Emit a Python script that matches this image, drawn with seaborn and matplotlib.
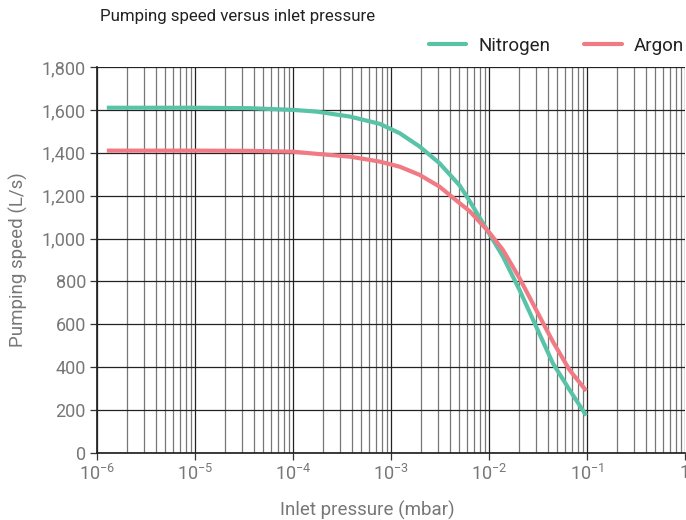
import numpy as np
import pandas as pd
import matplotlib
matplotlib.use("Agg")
import matplotlib.pyplot as plt
import seaborn as sns
from matplotlib.ticker import FixedLocator, FuncFormatter, MultipleLocator, NullFormatter
from matplotlib.lines import Line2D

# Data
pressure = [1.26e-6, 1e-5, 3.6e-5, 1e-4, 1.74e-4, 3.8e-4, 7.67e-4, 1.23e-3, 1.96e-3,
            3.13e-3, 5.01e-3, 6.34e-3, 1.0e-2, 1.387e-2, 2.05e-2, 3.03e-2, 4.49e-2,
            6.64e-2, 9.82e-2]
speed_n2 = [1610, 1610, 1608, 1600, 1592, 1569, 1535, 1491, 1429,
            1351, 1248, 1175, 1025, 916, 760, 589, 418,
            294, 175]
speed_ar = [1410, 1410, 1409, 1405, 1395, 1382, 1359, 1335, 1297,
            1242, 1165, 1128, 1030, 947, 815, 667, 519,
            387, 290]

series_names = ["Nitrogen", "Argon"]
colors = ["#58C3A7", "#F17B84"]
x_ticks = [1e-6, 1e-5, 1e-4, 1e-3, 1e-2, 1e-1, 1]

df = pd.concat([
    pd.DataFrame({"pressure": pressure, "speed": speed_n2, "gas": series_names[0]}),
    pd.DataFrame({"pressure": pressure, "speed": speed_ar, "gas": series_names[1]}),
])

sns.set_theme(style="white")
plt.rcParams["font.family"] = ["Roboto", "DejaVu Sans"]
plt.rcParams["mathtext.fontset"] = "custom"
plt.rcParams["mathtext.rm"] = "Roboto"
plt.rcParams["mathtext.it"] = "Roboto"
plt.rcParams["mathtext.default"] = "regular"

fig = plt.figure(figsize=(6.86, 5.2), dpi=100)
ax = fig.add_axes([97/686, (520-453)/520, (685-97)/686, (453-67)/520])

sns.lineplot(data=df, x="pressure", y="speed", hue="gas", palette=colors,
             hue_order=series_names, linewidth=3.0, ax=ax, legend=False,
             sort=True, estimator=None)
for ln in ax.lines:
    ln.set_solid_capstyle("butt")
    ln.set_solid_joinstyle("round")
    ln.set_zorder(5)

ax.set_xscale("log")
ax.set_xlim(1e-6, 1)
ax.set_ylim(0, 1800)
ax.xaxis.set_major_locator(FixedLocator(x_ticks))
minor = [m * 10.0**e for e in range(-6, 0) for m in range(2, 10)]
ax.xaxis.set_minor_locator(FixedLocator(minor))
ax.xaxis.set_minor_formatter(NullFormatter())
ax.xaxis.set_major_formatter(FuncFormatter(
    lambda v, p: "1" if abs(v - 1) < 1e-12 else r"$10^{%d}$" % int(round(np.log10(v)))))
ax.yaxis.set_major_locator(MultipleLocator(200))
ax.yaxis.set_major_formatter(FuncFormatter(lambda v, p: f"{int(v):,}"))

ax.grid(True, which="major", axis="both", color="#222222", linewidth=0.9)
ax.grid(True, which="minor", axis="x", color="#777777", linewidth=0.9)
ax.set_axisbelow(True)

for s in ax.spines.values():
    s.set_visible(False)
ax.spines["left"].set_visible(True)
ax.spines["bottom"].set_visible(True)
ax.spines["left"].set_color("#222222")
ax.spines["bottom"].set_color("#222222")

ax.tick_params(axis="both", which="major", labelsize=13, labelcolor="#777777",
               color="#333333", length=5, width=0.9, bottom=True, left=True)
ax.tick_params(axis="x", which="minor", length=0)
ax.tick_params(axis="x", pad=3)
ax.tick_params(axis="y", pad=3)

ax.set_xlabel("Inlet pressure (mbar)", fontsize=13.5, color="#777777", labelpad=10)
ax.xaxis.set_label_coords((367 - 97) / (685 - 97), -0.125)
ax.set_ylabel("Pumping speed (L/s)", fontsize=13.5, color="#777777", labelpad=10)

fig.text(100/686, 1 - 17/520, "Pumping speed versus inlet pressure", fontsize=12.2,
         color="#222222", ha="left", va="center")

handles = [Line2D([], [], color=c, linewidth=3) for c in colors]
fig.legend(handles, series_names, loc="center right", bbox_to_anchor=(684/686, 1 - 46/520),
           ncol=2, frameon=False, fontsize=13.5, handlelength=2.0, columnspacing=1.8,
           handletextpad=0.65, borderaxespad=0, borderpad=0.0, labelcolor="#222222")

fig.savefig("out.png", dpi=100)
